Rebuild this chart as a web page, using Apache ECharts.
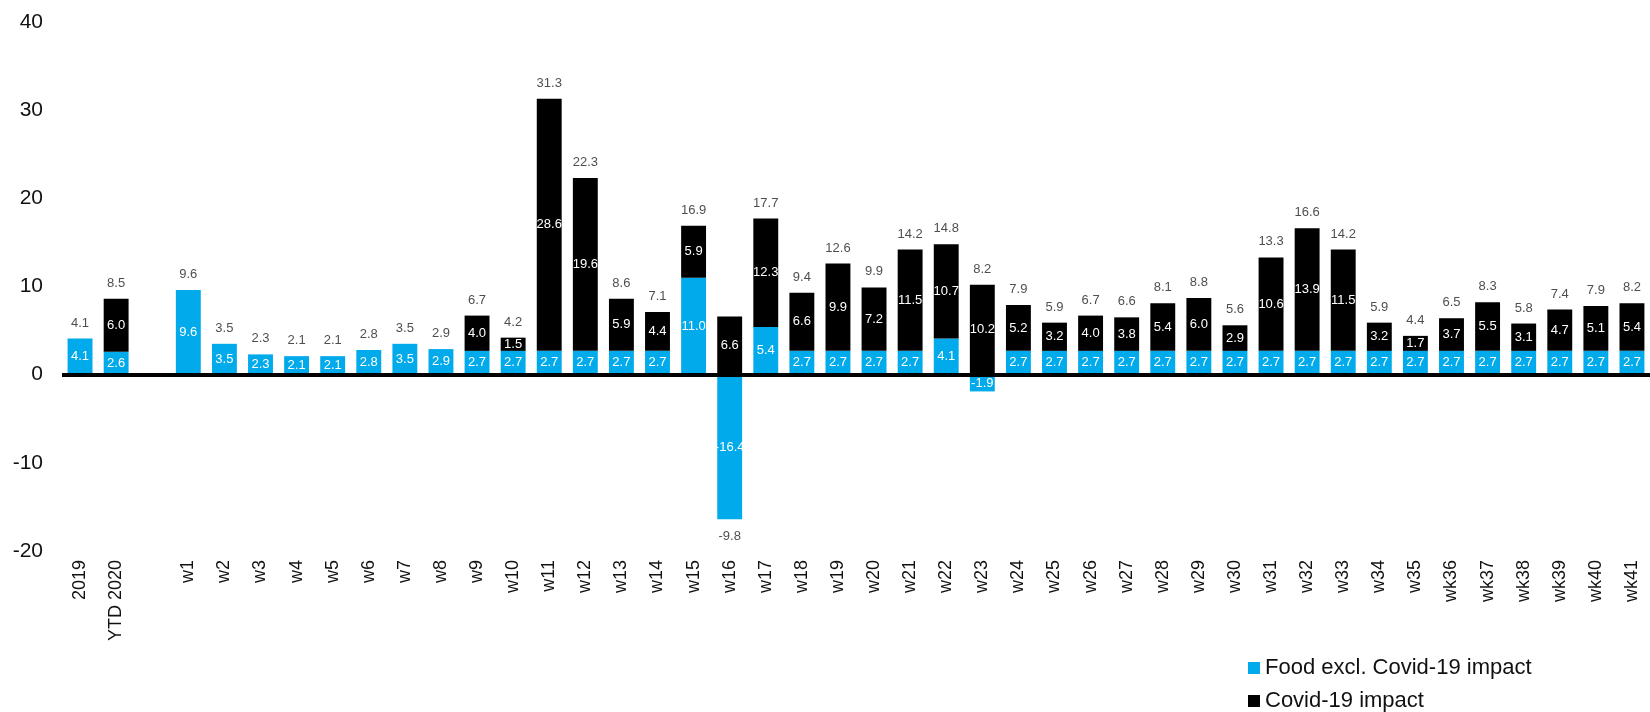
<!DOCTYPE html>
<html>
<head>
<meta charset="utf-8">
<script src="https://cdn.jsdelivr.net/npm/echarts@6/dist/echarts.min.js"></script>
<style>
  html, body { margin: 0; padding: 0; background: #fff; }
  #chart { width: 1650px; height: 712px; }
</style>
</head>
<body>
<div id="chart"></div>
<script>
// Weekly food sales growth (%), split into underlying growth and Covid-19 effect
const categories = ['2019', 'YTD 2020', '',
  'w1', 'w2', 'w3', 'w4', 'w5', 'w6', 'w7', 'w8', 'w9', 'w10',
  'w11', 'w12', 'w13', 'w14', 'w15', 'w16', 'w17', 'w18', 'w19', 'w20',
  'w21', 'w22', 'w23', 'w24', 'w25', 'w26', 'w27', 'w28', 'w29', 'w30',
  'w31', 'w32', 'w33', 'w34', 'w35', 'wk36', 'wk37', 'wk38', 'wk39', 'wk40', 'wk41'];

const foodExclCovid = [4.1, 2.6, null,
  9.6, 3.5, 2.3, 2.1, 2.1, 2.8, 3.5, 2.9, 2.7, 2.7,
  2.7, 2.7, 2.7, 2.7, 11.0, -16.4, 5.4, 2.7, 2.7, 2.7,
  2.7, 4.1, -1.9, 2.7, 2.7, 2.7, 2.7, 2.7, 2.7, 2.7,
  2.7, 2.7, 2.7, 2.7, 2.7, 2.7, 2.7, 2.7, 2.7, 2.7, 2.7];

const covidImpact = [null, 6.0, null,
  null, null, null, null, null, null, null, null, 4.0, 1.5,
  28.6, 19.6, 5.9, 4.4, 5.9, 6.6, 12.3, 6.6, 9.9, 7.2,
  11.5, 10.7, 10.2, 5.2, 3.2, 4.0, 3.8, 5.4, 6.0, 2.9,
  10.6, 13.9, 11.5, 3.2, 1.7, 3.7, 5.5, 3.1, 4.7, 5.1, 5.4];

const totals = [4.1, 8.5, null,
  9.6, 3.5, 2.3, 2.1, 2.1, 2.8, 3.5, 2.9, 6.7, 4.2,
  31.3, 22.3, 8.6, 7.1, 16.9, -9.8, 17.7, 9.4, 12.6, 9.9,
  14.2, 14.8, 8.2, 7.9, 5.9, 6.7, 6.6, 8.1, 8.8, 5.6,
  13.3, 16.6, 14.2, 5.9, 4.4, 6.5, 8.3, 5.8, 7.4, 7.9, 8.2];

const yTicks = [-20, -10, 0, 10, 20, 30, 40];

const BLUE = '#00AAEB';
const FONT = 'Liberation Sans, Arial, sans-serif';

// Total labels sit at the end of the stack on the side of the total's sign;
// negative totals are labelled underneath the bar
const totalPoints = totals.map((t, i) => {
  if (t === null) return null;
  const a = foodExclCovid[i] || 0, b = covidImpact[i] || 0;
  const v = t >= 0 ? Math.max(a, 0) + Math.max(b, 0) : Math.min(a, 0) + Math.min(b, 0);
  const point = { value: [i, v], total: t };
  if (t < 0) point.label = { position: 'bottom', distance: 11 };
  return point;
});

const fmt = v => (v === null || v === undefined) ? '' : Number(v).toFixed(1);

const chart = echarts.init(document.getElementById('chart'));
chart.setOption({
  animation: false,
  textStyle: { fontFamily: FONT },
  grid: { left: 62, top: 22, width: 1590, height: 529, containLabel: false },
  legend: {
    orient: 'vertical',
    left: 1248,
    top: 657,
    height: 56,
    padding: 0,
    itemWidth: 12,
    itemHeight: 12,
    itemGap: 11,
    icon: 'rect',
    textStyle: { fontSize: 22, color: '#111', fontFamily: FONT },
    data: ['Food excl. Covid-19 impact', 'Covid-19 impact']
  },
  xAxis: {
    type: 'category',
    data: categories,
    axisLine: { show: false, onZero: false },
    axisTick: { show: false },
    axisLabel: { rotate: 90, fontSize: 18, color: '#111', margin: 9, interval: 0, fontFamily: FONT }
  },
  yAxis: {
    type: 'value',
    min: -20,
    max: 40,
    interval: 10,
    splitLine: { show: false },
    axisLine: { show: false },
    axisTick: { show: false },
    axisLabel: {
      fontSize: 21, color: '#111', margin: 19, fontFamily: FONT,
      formatter: v => yTicks.includes(v) ? String(v) : ''
    }
  },
  series: [
    {
      name: 'Food excl. Covid-19 impact',
      type: 'bar',
      stack: 'total',
      barWidth: '69%',
      itemStyle: { color: BLUE },
      data: foodExclCovid,
      label: {
        show: true, position: 'inside', color: '#fff', fontSize: 13, fontFamily: FONT,
        formatter: p => fmt(p.value)
      },
      markLine: {
        silent: true,
        symbol: 'none',
        label: { show: false },
        lineStyle: { color: '#000', width: 4, type: 'solid' },
        data: [{ yAxis: 0 }]
      }
    },
    {
      name: 'Covid-19 impact',
      type: 'bar',
      stack: 'total',
      barWidth: '69%',
      itemStyle: { color: '#000' },
      data: covidImpact,
      label: {
        show: true, position: 'inside', color: '#fff', fontSize: 13, fontFamily: FONT,
        formatter: p => fmt(p.value)
      }
    },
    {
      name: 'Total',
      type: 'scatter',
      symbolSize: 0,
      silent: true,
      z: 5,
      data: totalPoints,
      label: {
        show: true,
        color: '#222',
        fontSize: 13,
        fontFamily: FONT,
        position: 'top',
        distance: 9,
        formatter: p => fmt(p.data.total)
      }
    }
  ]
});
</script>
</body>
</html>
